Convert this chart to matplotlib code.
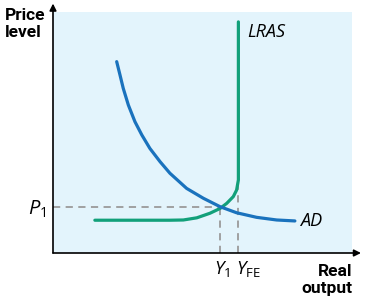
import matplotlib.pyplot as plt

# values (output 0-100, price level 0-100)
ad_x = [21.3, 22.4, 23.5, 25.2, 27.4, 29.7, 32.4, 35.8, 39.1, 44.7, 50.3, 55.9, 61.4, 68.1, 74.8, 80.9]
ad_y = [79.4, 73.9, 68.3, 61.4, 54.5, 49.0, 43.4, 37.9, 33.1, 26.8, 22.7, 19.2, 16.7, 14.8, 13.7, 13.3]

lras_x = [14.0, 39.1, 43.6, 48.1, 52.5, 55.9, 58.1, 60.3, 61.4, 62.0, 62.0]
lras_y = [13.6, 13.6, 13.7, 14.6, 16.5, 18.5, 20.6, 23.4, 26.1, 30.3, 95.9]

p1 = 19.2
y1 = 55.9
yfe = 62.0
yfe_top = 28.0

blue = "#1a72bd"
green = "#12a07a"
grey = "#9a9a9a"

plt.rcParams['font.family'] = ['Open Sans', 'DejaVu Sans']
plt.rcParams['mathtext.fontset'] = 'custom'
plt.rcParams['mathtext.it'] = 'Open Sans:italic'
plt.rcParams['mathtext.rm'] = 'Open Sans'

fig = plt.figure(figsize=(3.76, 3.0), dpi=100)
ax = fig.add_axes([53/376, 47/300, 299/376, 241/300])
ax.set_facecolor("#e3f4fc")
ax.set_xlim(0, 100)
ax.set_ylim(0, 100)
for s in ax.spines.values():
    s.set_visible(False)
ax.set_xticks([])
ax.set_yticks([])

# dashed guides
dash = (0, (4, 3))
ax.plot([0, y1], [p1, p1], ls=dash, color=grey, lw=1.3)
ax.plot([y1, y1], [0, p1], ls=dash, color=grey, lw=1.3)
ax.plot([yfe, yfe], [0, yfe_top], ls=dash, color=grey, lw=1.3)

ax.plot(lras_x, lras_y, color=green, lw=2.3, solid_capstyle='round', solid_joinstyle='round')
ax.plot(ad_x, ad_y, color=blue, lw=2.3, solid_capstyle='round', solid_joinstyle='round')

# axes with arrows
arrow = dict(arrowstyle="-|>", color="black", lw=1.2, mutation_scale=10, shrinkA=0, shrinkB=0)
ax.annotate("", xy=(0, 103.5), xytext=(0, 0), annotation_clip=False, arrowprops=arrow)
ax.annotate("", xy=(103, 0), xytext=(0, 0), annotation_clip=False, arrowprops=arrow)

ax.text(-16, 101.8, "Price\nlevel", fontsize=12.5, fontweight='bold', family='Roboto',
        ha='left', va='top', linespacing=1.2, clip_on=False)
ax.text(100, -4.5, "Real\noutput", fontsize=12.5, fontweight='bold', family='Roboto',
        ha='right', va='top', linespacing=1.2, clip_on=False)
ax.text(64.8, 91.5, "LRAS", fontsize=13, style='italic', ha='left', va='center')
ax.text(82.5, 13.3, "AD", fontsize=13, style='italic', ha='left', va='center')
ax.text(-2.3, p1 - 1, r"$P_{\mathrm{1}}$", fontsize=14.5, ha='right', va='center', clip_on=False)
ax.text(y1 + 0.5, -2.3, r"$Y_{\mathrm{1}}$", fontsize=13.5, ha='center', va='top', clip_on=False)
ax.text(yfe + 3.3, -2.3, r"$Y_{\mathrm{FE}}$", fontsize=13.5, ha='center', va='top', clip_on=False)

fig.savefig("out.png", dpi=100)
